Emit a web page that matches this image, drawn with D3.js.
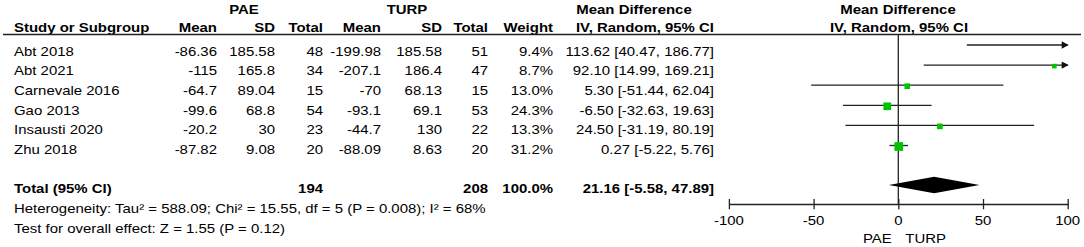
<!DOCTYPE html>
<html><head><meta charset="utf-8">
<script src="https://cdn.jsdelivr.net/npm/d3@7/dist/d3.min.js"></script>
<style>
html,body{margin:0;padding:0;background:#fff;}
svg{display:block;font-family:"Liberation Sans",Arial,sans-serif;}
</style></head>
<body>
<svg id="c" width="1084" height="247"></svg>
<script>
// ---- data ----
const studies = ["Abt 2018","Abt 2021","Carnevale 2016","Gao 2013","Insausti 2020","Zhu 2018"];
const paeMean = [-86.36,-115,-64.7,-99.6,-20.2,-87.82];
const paeSD = [185.58,165.8,89.04,68.8,30,9.08];
const paeN = [48,34,15,54,23,20];
const turpMean = [-199.98,-207.1,-70,-93.1,-44.7,-88.09];
const turpSD = [185.58,186.4,68.13,69.1,130,8.63];
const turpN = [51,47,15,53,22,20];
const weights = [9.4,8.7,13.0,24.3,13.3,31.2];
const md = [113.62,92.10,5.30,-6.50,24.50,0.27];
const ciLo = [40.47,14.99,-51.44,-32.63,-31.19,-5.22];
const ciHi = [186.77,169.21,62.04,19.63,80.19,5.76];
const totalPAE = 194, totalTURP = 208, totalWeight = 100.0;
const totalMD = 21.16, totalLo = -5.58, totalHi = 47.89;
const heterogeneity = "Heterogeneity: Tau\u00B2 = 588.09; Chi\u00B2 = 15.55, df = 5 (P = 0.008); I\u00B2 = 68%";
const overallEffect = "Test for overall effect: Z = 1.55 (P = 0.12)";
const axisTicks = [-100,-50,0,50,100];
const favourLeft = "PAE", favourRight = "TURP";

// ---- drawing ----
const svg = d3.select("#c");
const FS = 13, SX = 1.15;
function txt(x, y, s, anchor, bold) {
  svg.append("text")
    .attr("transform", `translate(${x},${y}) scale(${SX},1)`)
    .attr("text-anchor", anchor || "start")
    .attr("font-size", FS)
    .attr("font-weight", bold ? "bold" : "normal")
    .attr("fill", "#000")
    .text(s);
}

const x = d3.scaleLinear().domain([-100,100]).range([728.9,1067.7]);
const size = d3.scaleSqrt().domain([0,31.2]).range([0,8.7]);
const textY = i => 55.5 + i*19.7;
const lineY = i => 45 + i*20.1;

// headers
txt(244, 14, "PAE", "middle", true);
txt(407, 14, "TURP", "middle", true);
txt(634, 14, "Mean Difference", "middle", true);
txt(898, 14, "Mean Difference", "middle", true);
const hy = 32.3;
txt(14, hy, "Study or Subgroup", "start", true);
txt(217, hy, "Mean", "end", true);
txt(275, hy, "SD", "end", true);
txt(323, hy, "Total", "end", true);
txt(381, hy, "Mean", "end", true);
txt(442, hy, "SD", "end", true);
txt(488, hy, "Total", "end", true);
txt(553, hy, "Weight", "end", true);
txt(714, hy, "IV, Random, 95% CI", "end", true);
txt(899, hy, "IV, Random, 95% CI", "middle", true);

svg.append("line").attr("x1",3).attr("x2",1081).attr("y1",34.5).attr("y2",34.5)
  .attr("stroke","#222").attr("stroke-width",1.3);

// rows
studies.forEach((s,i) => {
  const y = textY(i);
  txt(14, y, s);
  txt(217, y, String(paeMean[i]), "end");
  txt(275, y, String(paeSD[i]), "end");
  txt(323, y, String(paeN[i]), "end");
  txt(381, y, String(turpMean[i]), "end");
  txt(442, y, String(turpSD[i]), "end");
  txt(488, y, String(turpN[i]), "end");
  txt(553, y, weights[i].toFixed(1) + "%", "end");
  txt(714, y, `${md[i].toFixed(2)} [${ciLo[i].toFixed(2)}, ${ciHi[i].toFixed(2)}]`, "end");
});

// total rows
const ty = 193;
txt(14, ty, "Total (95% CI)", "start", true);
txt(323, ty, String(totalPAE), "end", true);
txt(488, ty, String(totalTURP), "end", true);
txt(553, ty, totalWeight.toFixed(1) + "%", "end", true);
txt(714, ty, `${totalMD.toFixed(2)} [${totalLo.toFixed(2)}, ${totalHi.toFixed(2)}]`, "end", true);
txt(14, 213, heterogeneity);
txt(14, 233, overallEffect);

// forest plot
const [dMin, dMax] = x.domain();
const axisY = 204;
svg.append("line").attr("x1", x(0)).attr("x2", x(0)).attr("y1", 34.5).attr("y2", axisY)
  .attr("stroke","#222").attr("stroke-width",1.3);

studies.forEach((s,i) => {
  const y = lineY(i);
  const lo = Math.max(ciLo[i], dMin), hi = Math.min(ciHi[i], dMax);
  svg.append("line").attr("x1", x(lo)).attr("x2", x(hi)).attr("y1", y).attr("y2", y)
    .attr("stroke","#222").attr("stroke-width",1.3);
  if (ciHi[i] > dMax) {
    const xe = x(dMax);
    svg.append("path").attr("d", `M${xe-6},${y-3.7}L${xe+1},${y}L${xe-6},${y+3.7}Z`).attr("fill","#111");
  }
  if (ciLo[i] < dMin) {
    const xs = x(dMin);
    svg.append("path").attr("d", `M${xs+6},${y-3.7}L${xs-1},${y}L${xs+6},${y+3.7}Z`).attr("fill","#111");
  }
  if (md[i] >= dMin && md[i] <= dMax) {
    const w = size(weights[i]);
    svg.append("rect").attr("x", x(md[i]) - w/2).attr("y", y + 1 - w/2)
      .attr("width", w).attr("height", w).attr("fill", "#00c400");
  }
});

// diamond
const dy = 185, dh = 8.2;
svg.append("path")
  .attr("d", `M${x(totalLo)},${dy}L${x(totalMD)},${dy-dh}L${x(totalHi)},${dy}L${x(totalMD)},${dy+dh}Z`)
  .attr("fill","#000");

// axis
const axis = d3.axisBottom(x).tickValues(axisTicks).tickSize(0).tickFormat(d => String(d));
const ag = svg.append("g").attr("transform", `translate(0,${axisY})`).call(axis);
ag.select(".domain").attr("stroke","#222").attr("stroke-width",1.3);
ag.selectAll(".tick text").remove();
ag.selectAll(".tick").append("line").attr("y1",-5).attr("y2",5.3).attr("stroke","#222").attr("stroke-width",1.3);
axisTicks.forEach(t => txt(x(t), 225, String(t), "middle"));

txt(x(0) - 6.5, 243, favourLeft, "end");
txt(x(0) + 7, 243, favourRight, "start");
</script>
</body></html>
